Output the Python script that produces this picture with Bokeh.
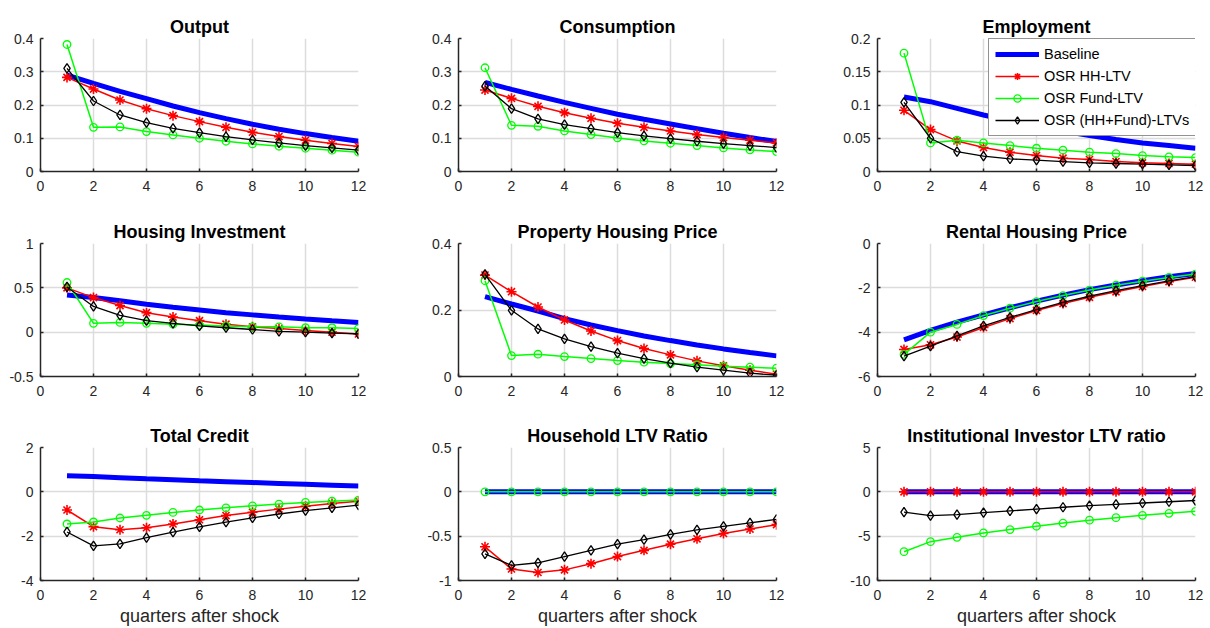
from bokeh.plotting import figure
from bokeh.layouts import gridplot
from bokeh.models import Range1d, FixedTicker, Legend, LegendItem
from bokeh.embed import file_html
from bokeh.resources import INLINE

# ---------------- data ----------------
quarters = [1, 2, 3, 4, 5, 6, 7, 8, 9, 10, 11, 12]
series_names = ["Baseline", "OSR HH-LTV", "OSR Fund-LTV", "OSR (HH+Fund)-LTVs"]
x_label_text = "quarters after shock"
x_ticks = [0, 2, 4, 6, 8, 10, 12]
x_tick_labels = ["0", "2", "4", "6", "8", "10", "12"]

# Output
output_title = "Output"
output_base = [0.290, 0.265, 0.241, 0.219, 0.197, 0.177, 0.159, 0.142, 0.127, 0.114, 0.102, 0.091]
output_hh = [0.283, 0.248, 0.215, 0.189, 0.168, 0.150, 0.133, 0.118, 0.105, 0.094, 0.084, 0.075]
output_fund = [0.382, 0.133, 0.134, 0.120, 0.110, 0.100, 0.091, 0.083, 0.076, 0.070, 0.064, 0.058]
output_both = [0.310, 0.212, 0.170, 0.147, 0.130, 0.117, 0.105, 0.095, 0.086, 0.078, 0.071, 0.064]
output_yticks = [0, 0.1, 0.2, 0.3, 0.4]
output_ylabels = ["0", "0.1", "0.2", "0.3", "0.4"]

# Consumption
cons_title = "Consumption"
cons_base = [0.268, 0.247, 0.227, 0.208, 0.190, 0.172, 0.157, 0.143, 0.129, 0.115, 0.102, 0.090]
cons_hh = [0.245, 0.220, 0.196, 0.177, 0.160, 0.145, 0.133, 0.122, 0.111, 0.102, 0.094, 0.086]
cons_fund = [0.312, 0.139, 0.136, 0.122, 0.111, 0.101, 0.092, 0.085, 0.078, 0.071, 0.065, 0.060]
cons_both = [0.257, 0.189, 0.158, 0.141, 0.129, 0.117, 0.107, 0.099, 0.091, 0.084, 0.078, 0.072]
cons_yticks = [0, 0.1, 0.2, 0.3, 0.4]
cons_ylabels = ["0", "0.1", "0.2", "0.3", "0.4"]

# Employment
emp_title = "Employment"
emp_base = [0.112, 0.105, 0.095, 0.085, 0.076, 0.068, 0.061, 0.054, 0.048, 0.043, 0.039, 0.035]
emp_hh = [0.092, 0.063, 0.046, 0.036, 0.029, 0.024, 0.020, 0.018, 0.015, 0.013, 0.012, 0.011]
emp_fund = [0.178, 0.043, 0.047, 0.043, 0.039, 0.035, 0.032, 0.029, 0.027, 0.024, 0.022, 0.021]
emp_both = [0.104, 0.050, 0.030, 0.023, 0.019, 0.017, 0.015, 0.013, 0.012, 0.011, 0.010, 0.009]
emp_yticks = [0, 0.05, 0.1, 0.15, 0.2]
emp_ylabels = ["0", "0.05", "0.1", "0.15", "0.2"]

# Housing Investment
hinv_title = "Housing Investment"
hinv_base = [0.42, 0.39, 0.355, 0.315, 0.28, 0.25, 0.22, 0.195, 0.17, 0.148, 0.128, 0.11]
hinv_hh = [0.50, 0.39, 0.30, 0.22, 0.17, 0.13, 0.09, 0.06, 0.04, 0.02, 0.00, -0.02]
hinv_fund = [0.56, 0.10, 0.11, 0.10, 0.09, 0.08, 0.07, 0.06, 0.06, 0.05, 0.05, 0.04]
hinv_both = [0.51, 0.29, 0.19, 0.13, 0.10, 0.07, 0.05, 0.03, 0.01, 0.00, -0.01, -0.02]
hinv_yticks = [-0.5, 0, 0.5, 1]
hinv_ylabels = ["-0.5", "0", "0.5", "1"]

# Property Housing Price
php_title = "Property Housing Price"
php_base = [0.240, 0.218, 0.197, 0.174, 0.155, 0.138, 0.122, 0.108, 0.095, 0.083, 0.072, 0.062]
php_hh = [0.305, 0.255, 0.209, 0.170, 0.137, 0.108, 0.084, 0.065, 0.047, 0.032, 0.019, 0.007]
php_fund = [0.288, 0.063, 0.067, 0.060, 0.054, 0.048, 0.043, 0.039, 0.035, 0.031, 0.028, 0.025]
php_both = [0.307, 0.199, 0.143, 0.113, 0.090, 0.070, 0.054, 0.040, 0.028, 0.019, 0.010, 0.004]
php_yticks = [0, 0.2, 0.4]
php_ylabels = ["0", "0.2", "0.4"]

# Rental Housing Price
rhp_title = "Rental Housing Price"
rhp_base = [-4.35, -3.92, -3.55, -3.22, -2.90, -2.60, -2.33, -2.08, -1.87, -1.68, -1.50, -1.35]
rhp_hh = [-4.78, -4.57, -4.22, -3.79, -3.39, -3.02, -2.71, -2.43, -2.18, -1.94, -1.72, -1.52]
rhp_fund = [-5.00, -4.00, -3.65, -3.25, -2.92, -2.62, -2.35, -2.10, -1.88, -1.70, -1.53, -1.38]
rhp_both = [-5.08, -4.63, -4.17, -3.72, -3.33, -2.98, -2.66, -2.38, -2.13, -1.90, -1.69, -1.49]
rhp_yticks = [-6, -4, -2, 0]
rhp_ylabels = ["-6", "-4", "-2", "0"]

# Total Credit
tc_title = "Total Credit"
tc_base = [0.73, 0.69, 0.64, 0.59, 0.55, 0.50, 0.46, 0.42, 0.38, 0.34, 0.30, 0.26]
tc_hh = [-0.82, -1.57, -1.71, -1.62, -1.45, -1.26, -1.07, -0.92, -0.78, -0.65, -0.53, -0.42]
tc_fund = [-1.45, -1.36, -1.18, -1.06, -0.93, -0.82, -0.72, -0.63, -0.55, -0.48, -0.42, -0.37]
tc_both = [-1.81, -2.44, -2.35, -2.07, -1.82, -1.58, -1.37, -1.17, -1.00, -0.85, -0.72, -0.60]
tc_yticks = [-4, -2, 0, 2]
tc_ylabels = ["-4", "-2", "0", "2"]

# Household LTV Ratio
hltv_title = "Household LTV Ratio"
hltv_base = [0, 0, 0, 0, 0, 0, 0, 0, 0, 0, 0, 0]
hltv_hh = [-0.62, -0.87, -0.91, -0.88, -0.81, -0.73, -0.66, -0.59, -0.53, -0.47, -0.42, -0.37]
hltv_fund = [0, 0, 0, 0, 0, 0, 0, 0, 0, 0, 0, 0]
hltv_both = [-0.70, -0.83, -0.80, -0.73, -0.66, -0.59, -0.54, -0.48, -0.43, -0.39, -0.35, -0.31]
hltv_yticks = [-1, -0.5, 0, 0.5]
hltv_ylabels = ["-1", "-0.5", "0", "0.5"]

# Institutional Investor LTV ratio
iltv_title = "Institutional Investor LTV ratio"
iltv_base = [0, 0, 0, 0, 0, 0, 0, 0, 0, 0, 0, 0]
iltv_hh = [0, 0, 0, 0, 0, 0, 0, 0, 0, 0, 0, 0]
iltv_fund = [-6.75, -5.62, -5.13, -4.64, -4.26, -3.88, -3.52, -3.20, -2.91, -2.65, -2.42, -2.20]
iltv_both = [-2.30, -2.68, -2.58, -2.35, -2.15, -1.94, -1.74, -1.56, -1.41, -1.26, -1.12, -0.98]
iltv_yticks = [-10, -5, 0, 5]
iltv_ylabels = ["-10", "-5", "0", "5"]

# ---------------- styling ----------------
BLUE, RED, GREEN, BLACK = "#0000ff", "#ff0000", "#00ff00", "#000000"
AX = "#262626"
GRID = "#dcdcdc"
FONT = "Liberation Sans"

panels = [
    [(output_title, output_base, output_hh, output_fund, output_both, output_yticks, output_ylabels),
     (cons_title, cons_base, cons_hh, cons_fund, cons_both, cons_yticks, cons_ylabels),
     (emp_title, emp_base, emp_hh, emp_fund, emp_both, emp_yticks, emp_ylabels)],
    [(hinv_title, hinv_base, hinv_hh, hinv_fund, hinv_both, hinv_yticks, hinv_ylabels),
     (php_title, php_base, php_hh, php_fund, php_both, php_yticks, php_ylabels),
     (rhp_title, rhp_base, rhp_hh, rhp_fund, rhp_both, rhp_yticks, rhp_ylabels)],
    [(tc_title, tc_base, tc_hh, tc_fund, tc_both, tc_yticks, tc_ylabels),
     (hltv_title, hltv_base, hltv_hh, hltv_fund, hltv_both, hltv_yticks, hltv_ylabels),
     (iltv_title, iltv_base, iltv_hh, iltv_fund, iltv_both, iltv_yticks, iltv_ylabels)],
]

col_widths = [418, 419, 372]
col_right = [60, 61, 14]
row_heights = [205, 204, 219]
row_bottom = [34, 33, 48]


def make_panel(spec, r, c):
    title, base, hh, fund, both, yticks, ylabels = spec
    p = figure(width=col_widths[c], height=row_heights[r],
               x_range=Range1d(0, 12), y_range=Range1d(yticks[0], yticks[-1]),
               output_backend="svg", toolbar_location=None,
               min_border_left=40, min_border_right=col_right[c],
               min_border_top=38, min_border_bottom=row_bottom[r])
    p.outline_line_color = None
    p.background_fill_color = "white"
    p.border_fill_color = "white"

    p.title.text = title
    p.title.align = "center"
    p.title.text_font = FONT
    p.title.text_font_size = "18px"
    p.title.text_font_style = "bold"
    p.title.text_color = "#000000"
    p.title.standoff = 3

    p.xaxis.ticker = FixedTicker(ticks=x_ticks)
    p.yaxis.ticker = FixedTicker(ticks=yticks)
    p.xgrid.ticker = FixedTicker(ticks=x_ticks)
    p.ygrid.ticker = FixedTicker(ticks=yticks)
    p.xaxis.major_label_overrides = dict(zip(x_ticks, x_tick_labels))
    p.yaxis.major_label_overrides = dict(zip(yticks, ylabels))

    for ax in (p.xaxis, p.yaxis):
        ax.axis_line_color = AX
        ax.axis_line_width = 1.5
        ax.major_tick_line_color = AX
        ax.major_tick_line_width = 1.5
        ax.major_tick_in = 3
        ax.major_tick_out = 0
        ax.minor_tick_line_color = None
        ax.major_label_text_font = FONT
        ax.major_label_text_font_size = "14px"
        ax.major_label_text_color = AX
    p.xaxis.major_label_standoff = 9
    p.yaxis.major_label_standoff = 7

    for g in (p.xgrid, p.ygrid):
        g.grid_line_color = GRID
        g.grid_line_width = 1.5

    rb = p.line(quarters, base, line_color=BLUE, line_width=5)
    rh_l = p.line(quarters, hh, line_color=RED, line_width=1.5)
    rh_m = p.scatter(quarters, hh, marker="asterisk", size=10, line_color=RED, line_width=1.6)
    rf_l = p.line(quarters, fund, line_color=GREEN, line_width=1.5)
    rf_m = p.scatter(quarters, fund, marker="circle", size=7.5, line_color=GREEN,
                     fill_color=None, line_width=1.3)
    rk_l = p.line(quarters, both, line_color=BLACK, line_width=1.3)
    rk_m = p.scatter(quarters, both, marker="diamond", size=9.5, line_color=BLACK,
                     fill_color=None, line_width=1.3)

    if r == 2:
        p.xaxis.axis_label = x_label_text
        p.xaxis.axis_label_text_font = FONT
        p.xaxis.axis_label_text_font_size = "18px"
        p.xaxis.axis_label_text_font_style = "normal"
        p.xaxis.axis_label_text_color = AX
        p.xaxis.axis_label_standoff = 3

    if r == 0 and c == 2:
        items = [
            LegendItem(label=series_names[0], renderers=[rb]),
            LegendItem(label=series_names[1], renderers=[rh_l, rh_m]),
            LegendItem(label=series_names[2], renderers=[rf_l, rf_m]),
            LegendItem(label=series_names[3], renderers=[rk_l, rk_m]),
        ]
        lg = Legend(items=items, location=(111, 35))
        lg.border_line_color = AX
        lg.border_line_width = 1
        lg.background_fill_color = "white"
        lg.background_fill_alpha = 1
        lg.label_text_font = FONT
        lg.label_text_font_size = "14.5px"
        lg.label_text_color = "#000000"
        lg.glyph_width = 44
        lg.glyph_height = 18
        lg.label_height = 18
        lg.spacing = 4
        lg.padding = 6
        lg.margin = 0
        lg.label_standoff = 5
        p.add_layout(lg)
    return p


grid = [[make_panel(spec, r, c) for c, spec in enumerate(row)] for r, row in enumerate(panels)]
layout = gridplot(grid, toolbar_location=None)

open("out.html", "w").write(file_html(layout, INLINE))
